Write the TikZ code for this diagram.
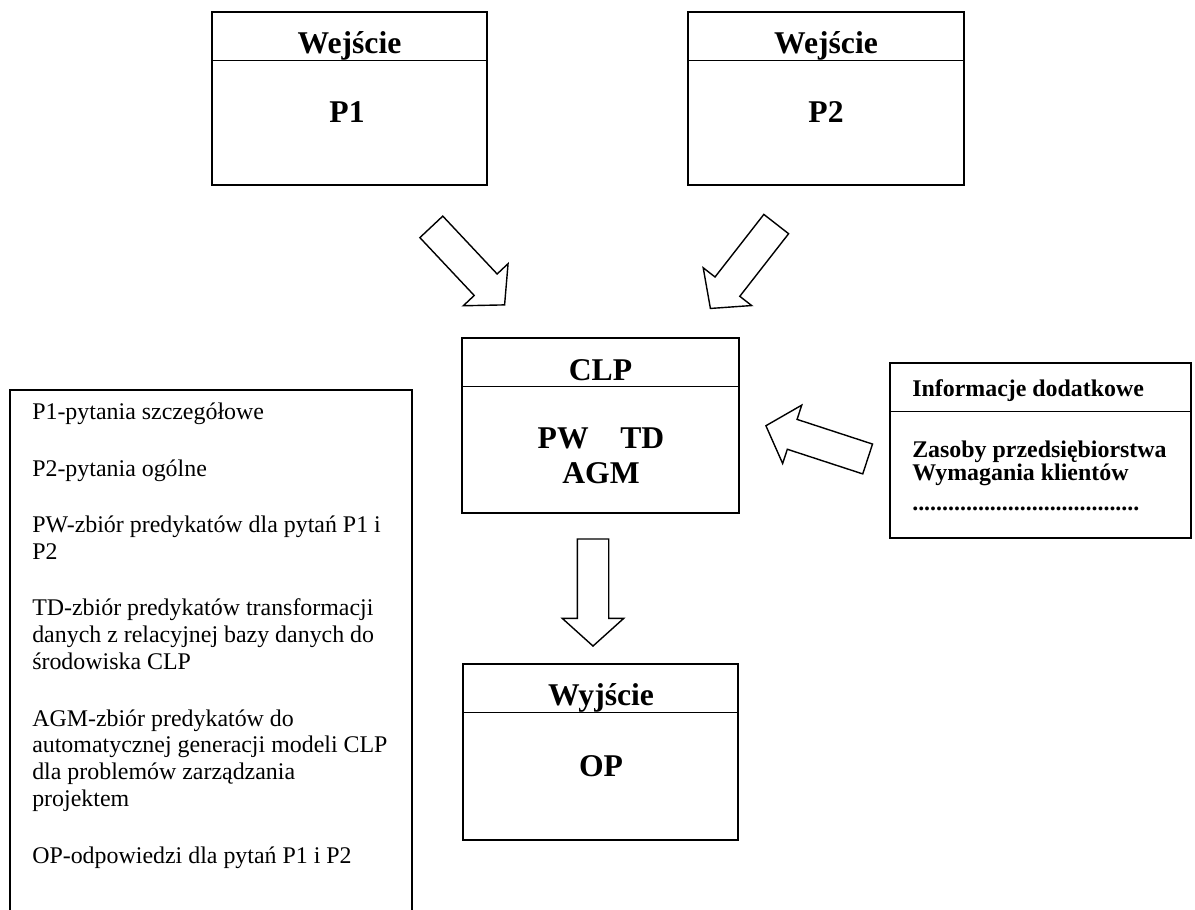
\documentclass[tikz,border=0pt]{standalone}
\usepackage{fontspec}
\setmainfont{Liberation Serif}
\usetikzlibrary{shapes.arrows,positioning}

\begin{document}
\begin{tikzpicture}[x=0.025cm,y=-0.025cm,
  box/.style={draw,line width=1.3pt,inner sep=0pt},
  head/.style={font=\fontsize{22.5}{25}\selectfont\bfseries,inner sep=0pt,anchor=base},
  info/.style={font=\fontsize{17}{15.2}\selectfont\bfseries,inner sep=0pt,align=left,anchor=base west},
  legendtext/.style={font=\fontsize{17}{19.1}\selectfont,inner sep=0pt,align=left,anchor=base west},
  blockarrow/.style={draw,line width=1pt,shape=single arrow,minimum height=2.675cm,minimum width=0pt,
    inner xsep=0pt,inner ysep=0.375cm,single arrow head extend=0.375cm,single arrow tip angle=96,anchor=tail}]
  \useasboundingbox (0,0) rectangle (1195,909);
  % boxes
  \node[box,minimum width=6.875cm,minimum height=4.325cm] (in1) at (349.5,98.5) {};
  \node[box,minimum width=6.9cm,minimum height=4.325cm] (in2) at (826,98.5) {};
  \node[box,minimum width=6.925cm,minimum height=4.375cm] (clp) at (600.5,425.5) {};
  \node[box,minimum width=6.875cm,minimum height=4.4cm] (out) at (600.5,752) {};
  \node[box,minimum width=7.525cm,minimum height=4.375cm] (info) at (1040.5,450.5) {};
  \node[box,minimum width=10.05cm,minimum height=13.5cm] (legend) at (211,660) {};
  \foreach \b in {in1,in2,clp,out,info}
    \draw[line width=1.3pt] ([yshift=-1.235cm]\b.north west) -- ([yshift=-1.235cm]\b.north east);
  % texts in the boxes (multi-line nodes sit on their last line)
  \node[head] (in1t) at (349.5,53) {Wejście};
  \node[head] (in1b) at (347,122) {P1};
  \node[head] (in2t) at (826,53) {Wejście};
  \node[head] (in2b) at (826,122) {P2};
  \node[head] (clpt) at (600.5,380) {CLP};
  \node[head,align=center] (clpb) at (601,483) {PW\hspace{1em}TD\\[-0.5pt]AGM};
  \node[head] (outt) at (601,705) {Wyjście};
  \node[head] (outb) at (601,776) {OP};
  \node[info] (infot) at (912,396) {Informacje dodatkowe};
  \node[info] (infob) at (912,510) {Zasoby przedsiębiorstwa\\Wymagania klientów\\[5.6pt]
    ......................................};
  % legend
  \node[legendtext] (legt) at (32,863) {P1-pytania szczegółowe\\[21pt]
    P2-pytania ogólne\\[21pt]
    PW-zbiór predykatów dla pytań P1 i\\P2\\[21pt]
    TD-zbiór predykatów transformacji\\danych z relacyjnej bazy danych do\\środowiska CLP\\[21pt]
    AGM-zbiór predykatów do\\automatycznej generacji modeli CLP\\dla problemów zarządzania\\projektem\\[21pt]
    OP-odpowiedzi dla pytań P1 i P2};
  % block arrows
  \node[blockarrow,rotate=-46.8] (ar1) at (430.85,226.35) {};
  \node[blockarrow,rotate=-127.95] (ar2) at (776.65,223.5) {};
  \node[blockarrow,rotate=161.9] (ar3) at (868.3,459.2) {};
  \node[blockarrow,rotate=-90] (ar4) at (593,538.3) {};
\end{tikzpicture}
\end{document}
